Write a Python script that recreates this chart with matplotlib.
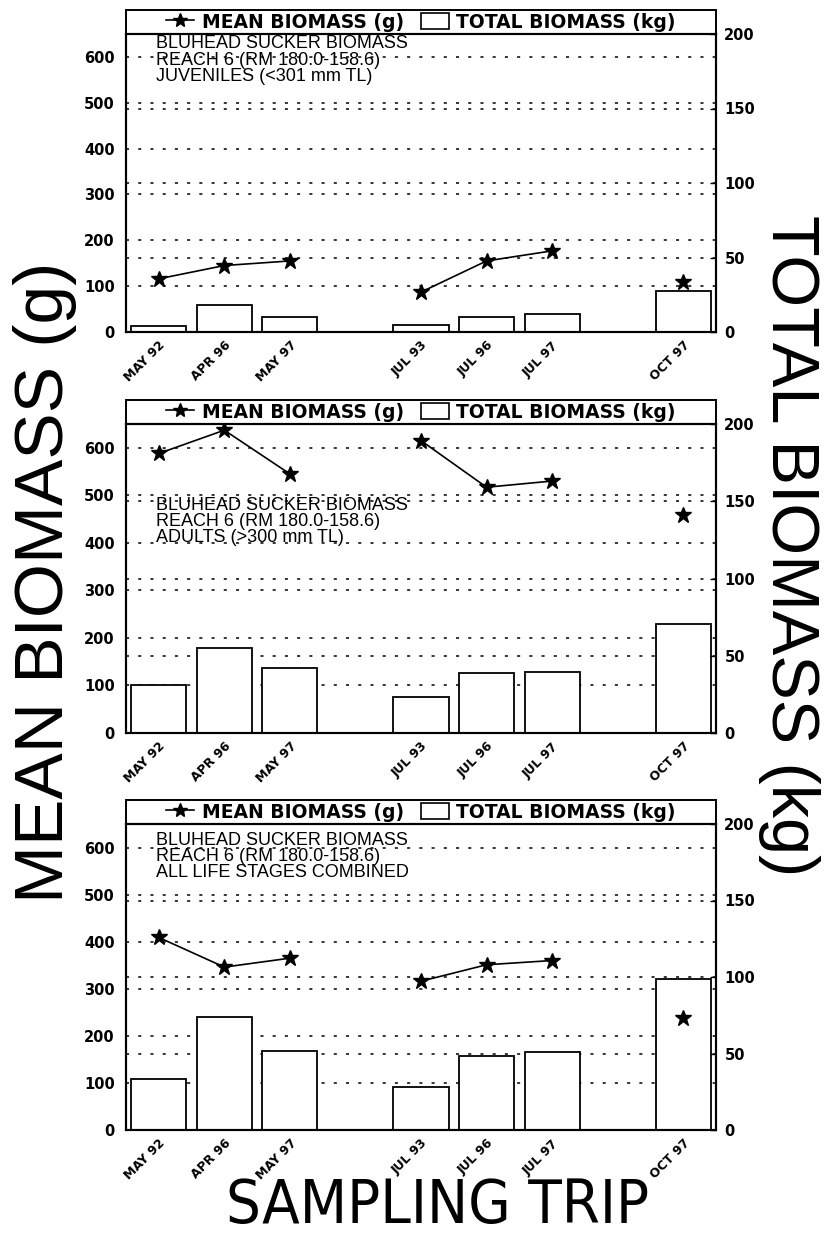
import numpy as np
import matplotlib.pyplot as plt
import matplotlib.transforms as mtransforms
from matplotlib import font_manager as fm
from matplotlib.lines import Line2D
from matplotlib.patches import Patch, Rectangle

# 采样批次 (三组之间空一格)
trips = ['MAY 92', 'APR 96', 'MAY 97', 'JUL 93', 'JUL 96', 'JUL 97', 'OCT 97']
trip_group = [0, 0, 0, 1, 1, 1, 2]

# 平均生物量 (g) 与 总生物量 (kg)
juv_mean = [116, 145, 155, 87, 155, 177, 110]
juv_total = [3.7, 18.2, 10.3, 4.4, 10.1, 12.3, 27.7]
adult_mean = [588, 637, 545, 615, 517, 530, 458]
adult_total = [30.8, 55.3, 42.2, 23.6, 38.6, 39.4, 70.8]
all_mean = [409, 346, 365, 316, 351, 360, 237]
all_total = [33.5, 73.8, 51.7, 28.0, 48.6, 51.1, 98.8]

juv_text = ['BLUHEAD SUCKER BIOMASS', 'REACH 6 (RM 180.0-158.6)', 'JUVENILES (<301 mm TL)']
adult_text = ['BLUHEAD SUCKER BIOMASS', 'REACH 6 (RM 180.0-158.6)', 'ADULTS (>300 mm TL)']
all_text = ['BLUHEAD SUCKER BIOMASS', 'REACH 6 (RM 180.0-158.6)', 'ALL LIFE STAGES COMBINED']

mean_ticks = [0, 100, 200, 300, 400, 500, 600]
total_ticks = [0, 50, 100, 150, 200]


def narrow_font(size):
    # 找一个窄体字体, 找不到就用普通的 Liberation Sans 缩小
    for fam, st in [('Liberation Sans Narrow', 'normal'), ('DejaVu Sans', 'condensed')]:
        try:
            path = fm.findfont(fm.FontProperties(family=fam, stretch=st),
                               fallback_to_default=False)
        except ValueError:
            continue
        if 'Narrow' in path or 'Condensed' in path:
            return fm.FontProperties(fname=path, size=size)
    return fm.FontProperties(family='Liberation Sans', size=size * 0.84)


W, H = 826, 1240
fig = plt.figure(figsize=(W / 100, H / 100), dpi=100)

x = np.arange(len(trips)) + np.array(trip_group)

# 每个面板: (数据, 文字, 文字顶部位置, 像素上边, 像素下边)
panels = [
    (juv_mean, juv_total, juv_text, 0.995, 34, 332),
    (adult_mean, adult_total, adult_text, 0.765, 424, 733),
    (all_mean, all_total, all_text, 0.975, 824, 1130),
]

tick_font = dict(family='DejaVu Sans', weight='bold')
dots = (0, (2, 6))
strip_px = 24

for mean, total, txt, ty, top, bottom in panels:
    ax = fig.add_axes([126 / W, 1 - bottom / H, 590 / W, (bottom - top) / H])
    ax2 = ax.twinx()
    ax.yaxis.set_ticks_position('right')
    ax2.yaxis.set_ticks_position('left')

    ax.set_xlim(-0.5, 8.5)
    ax.set_ylim(0, 200)
    ax2.set_ylim(0, 650)

    # 网格: 右轴刻度 + 左轴刻度, 都画在柱子下面
    ax.set_axisbelow(True)
    ax.yaxis.grid(True, linestyle=dots, color='black', lw=1.1)
    trans = mtransforms.blended_transform_factory(ax.transAxes, ax2.transData)
    ax.hlines(mean_ticks[1:], 0, 1, transform=trans, colors='black',
              linestyles=dots, lw=1.1, zorder=0.5)

    ax.bar(x, total, width=0.84, color='white', edgecolor='black', lw=1.3, zorder=2)

    for g in sorted(set(trip_group)):
        idx = [i for i, k in enumerate(trip_group) if k == g]
        ax2.plot(x[idx], [mean[i] for i in idx], color='black', lw=1.2,
                 marker='*', ms=12, zorder=3)

    ax.set_yticks(total_ticks)
    ax.set_yticklabels([str(t) for t in total_ticks], fontsize=10.5, **tick_font)
    ax.tick_params(axis='y', direction='in', length=4, width=1, pad=6)
    ax2.set_yticks(mean_ticks)
    ax2.set_yticklabels([str(t) for t in mean_ticks], fontsize=10.5, **tick_font)
    ax2.tick_params(axis='y', length=0, pad=8)

    ax.set_xticks(x)
    ax.set_xticklabels(trips, rotation=45, ha='right', va='top',
                       rotation_mode='anchor', fontsize=9, **tick_font)
    ax.tick_params(axis='x', length=0, pad=5)

    for a in (ax, ax2):
        for s in a.spines.values():
            s.set_linewidth(1.5)

    ax2.text(0.05, ty, '\n'.join(txt), transform=ax.transAxes, va='top', ha='left',
             fontsize=13, family='Liberation Sans', linespacing=0.95)

    # 图例条
    h = strip_px / (bottom - top)
    ax2.add_patch(Rectangle((0, 1), 1, h, transform=ax2.transAxes, fill=False,
                            lw=1.4, ec='black', clip_on=False))
    handles = [Line2D([], [], color='black', marker='*', ms=10, lw=1.2),
               Patch(facecolor='white', edgecolor='black', lw=1.2)]
    ax2.legend(handles, ['MEAN BIOMASS (g)', 'TOTAL BIOMASS (kg)'],
               loc='center', bbox_to_anchor=(0.5, 1 + h / 2), ncol=2, frameon=False,
               borderaxespad=0, borderpad=0, handlelength=1.5, handleheight=0.9,
               handletextpad=0.4, columnspacing=0.9,
               prop=dict(family='DejaVu Sans', weight='bold', size=13.5))

fig.text(0.055, 0.53, 'MEAN BIOMASS (g)', rotation=90, ha='center', va='center',
         fontsize=50, family='Liberation Sans')
fig.text(0.955, 0.56, 'TOTAL BIOMASS (kg)', rotation=270, ha='center', va='center',
         fontsize=48, family='Liberation Sans')
fig.text(438 / W, 1 - 1206 / H, 'SAMPLING TRIP', ha='center', va='center',
         fontproperties=narrow_font(44))

fig.savefig('out.png', dpi=100)
